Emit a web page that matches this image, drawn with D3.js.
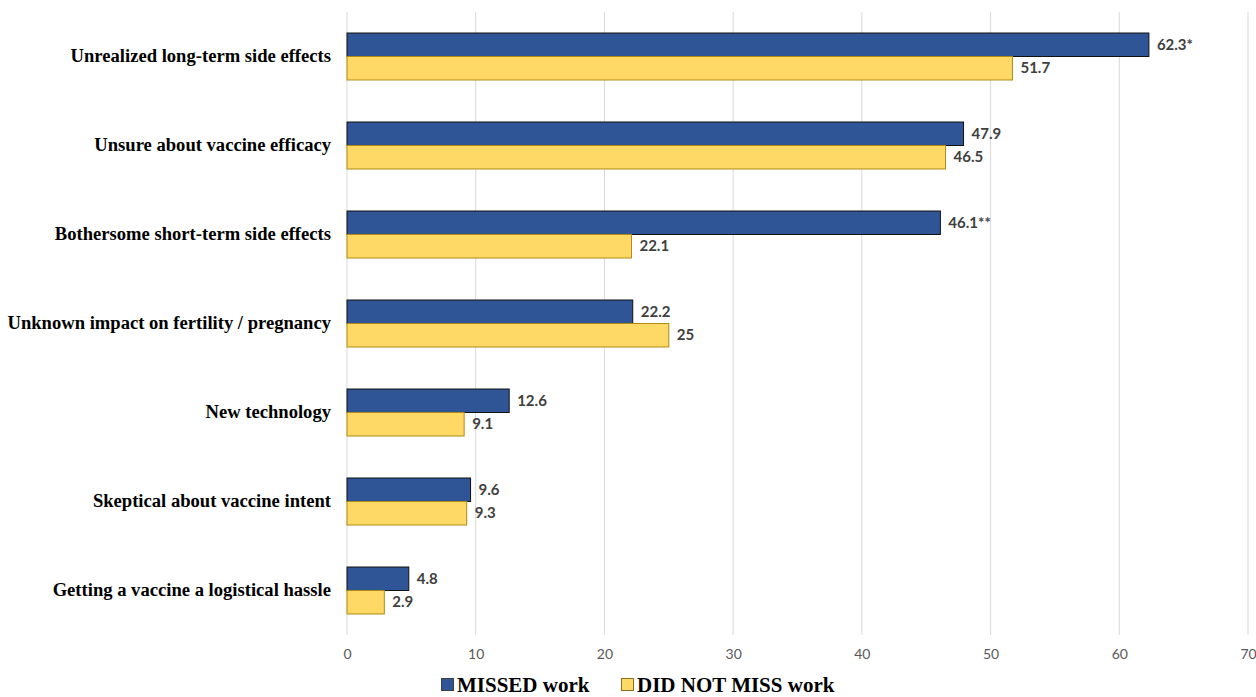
<!DOCTYPE html>
<html>
<head>
<meta charset="utf-8">
<script src="https://cdn.jsdelivr.net/npm/d3@7"></script>
<style>
  body { margin: 0; background: #fff; }
  svg { display: block; }
</style>
</head>
<body>
<svg width="1256" height="697"></svg>
<script>
var categories = [
  "Unrealized long-term side effects",
  "Unsure about vaccine efficacy",
  "Bothersome short-term side effects",
  "Unknown impact on fertility / pregnancy",
  "New technology",
  "Skeptical about vaccine intent",
  "Getting a vaccine a logistical hassle"
];
var missedValues = [62.3, 47.9, 46.1, 22.2, 12.6, 9.6, 4.8];
var missedLabels = ["62.3*", "47.9", "46.1**", "22.2", "12.6", "9.6", "4.8"];
var notMissedValues = [51.7, 46.5, 22.1, 25, 9.1, 9.3, 2.9];
var notMissedLabels = ["51.7", "46.5", "22.1", "25", "9.1", "9.3", "2.9"];
var seriesNames = ["MISSED work", "DID NOT MISS work"];
var xTicks = [0, 10, 20, 30, 40, 50, 60, 70];

var svg = d3.select("svg");
var plotLeft = 347, plotRight = 1248, plotTop = 12, plotBottom = 635;

var x = d3.scaleLinear().domain([0, 70]).range([plotLeft, plotRight]);
var y = d3.scaleBand().domain(categories).range([plotTop, plotBottom])
  .paddingInner(0.472).paddingOuter(0.236);
var sub = d3.scaleBand().domain([0, 1]).range([0, y.bandwidth()]);

var colors = ["#2F5597", "#FFD966"];
var strokes = ["#111111", "#B08A10"];

// grid
svg.append("g").selectAll("line")
  .data(xTicks)
  .enter().append("line")
  .attr("x1", function (d) { return x(d); })
  .attr("x2", function (d) { return x(d); })
  .attr("y1", plotTop)
  .attr("y2", plotBottom)
  .style("stroke", "#d9d9d9")
  .style("stroke-width", 1);

// x axis labels
var xAxis = d3.axisBottom(x).tickValues(xTicks).tickSize(0).tickPadding(14);
var gx = svg.append("g").attr("transform", "translate(0," + plotBottom + ")").call(xAxis);
gx.select(".domain").remove();
gx.selectAll("text")
  .style("font-family", "Lato, 'Open Sans', sans-serif")
  .style("font-size", "14px")
  .style("fill", "#595959");

// category labels
var yAxis = d3.axisLeft(y).tickSize(0).tickPadding(16);
var gy = svg.append("g").attr("transform", "translate(" + plotLeft + ",0)").call(yAxis);
gy.select(".domain").remove();
gy.selectAll("text")
  .style("font-family", "'Liberation Serif', 'Times New Roman', serif")
  .style("font-weight", "bold")
  .style("font-size", "18.6px")
  .style("fill", "#000");

var rows = categories.map(function (c, i) {
  return [
    { cat: c, s: 0, v: missedValues[i], label: missedLabels[i] },
    { cat: c, s: 1, v: notMissedValues[i], label: notMissedLabels[i] }
  ];
});

var groups = svg.append("g").selectAll("g.group")
  .data(rows)
  .enter().append("g")
  .attr("class", "group")
  .attr("transform", function (d) { return "translate(0," + y(d[0].cat) + ")"; });

groups.selectAll("rect")
  .data(function (d) { return d; })
  .enter().append("rect")
  .attr("x", x(0))
  .attr("y", function (d) { return sub(d.s); })
  .attr("width", function (d) { return x(d.v) - x(0); })
  .attr("height", sub.bandwidth())
  .style("fill", function (d) { return colors[d.s]; })
  .style("stroke", function (d) { return strokes[d.s]; })
  .style("stroke-width", 1);

groups.selectAll("text")
  .data(function (d) { return d; })
  .enter().append("text")
  .attr("x", function (d) { return x(d.v) + 8; })
  .attr("y", function (d) { return sub(d.s) + sub.bandwidth() / 2; })
  .attr("dy", "0.35em")
  .text(function (d) { return d.label; })
  .style("font-family", "Lato, 'Open Sans', sans-serif")
  .style("font-weight", "bold")
  .style("font-size", "15px")
  .style("fill", "#404040");

// legend
var legendX = [441, 621];
var legend = svg.append("g").selectAll("g")
  .data(seriesNames)
  .enter().append("g")
  .attr("transform", function (d, i) { return "translate(" + legendX[i] + ",678)"; });

legend.append("rect")
  .attr("x", 0.5).attr("y", 0.5)
  .attr("width", 12).attr("height", 12)
  .style("fill", function (d, i) { return colors[i]; })
  .style("stroke", function (d, i) { return i === 0 ? "#404040" : "#8a7020"; });

legend.append("text")
  .attr("x", 16)
  .attr("y", 6.5)
  .attr("dy", "0.35em")
  .text(function (d) { return d; })
  .style("font-family", "'Liberation Serif', 'Times New Roman', serif")
  .style("font-weight", "bold")
  .style("font-size", "21px")
  .style("fill", "#000");
</script>
</body>
</html>
